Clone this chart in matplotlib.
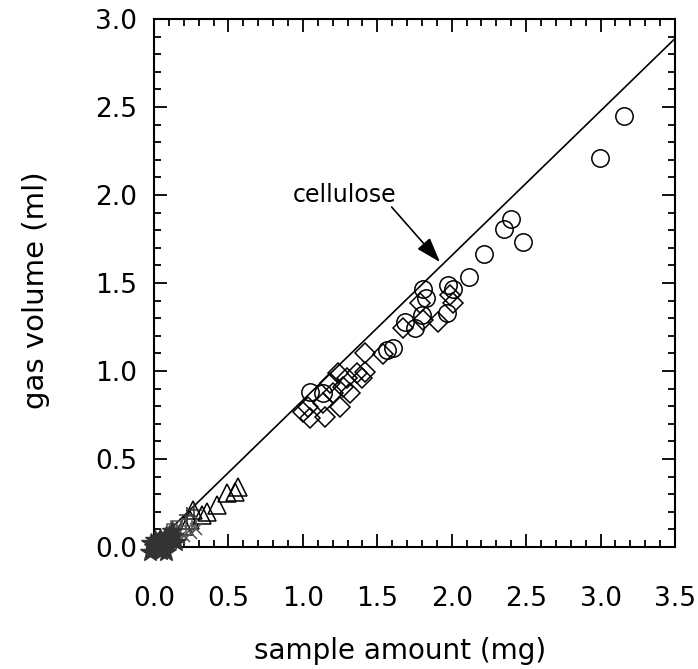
import matplotlib
matplotlib.use("Agg")
import matplotlib.pyplot as plt
from matplotlib.ticker import MultipleLocator

# ---- data ----
circle_x = [3.157, 2.995, 2.395, 2.35, 2.48, 2.216, 2.118, 1.977, 2.006, 1.81, 1.83,
            1.966, 1.80, 1.686, 1.753, 1.607, 1.563, 1.048, 1.137]
circle_y = [2.449, 2.21, 1.862, 1.805, 1.735, 1.665, 1.536, 1.489, 1.464, 1.464, 1.413,
            1.328, 1.318, 1.28, 1.243, 1.129, 1.119, 0.882, 0.873]

diamond_x = [1.417, 1.54, 1.675, 1.786, 1.91, 1.988, 2.01, 1.81, 1.238, 1.294, 1.361,
             1.417, 1.395, 1.182, 1.316, 1.204, 1.036, 1.003, 1.048, 1.148, 1.249,
             1.137, 1.27]
diamond_y = [1.104, 1.097, 1.243, 1.385, 1.28, 1.432, 1.385, 1.29, 0.987, 0.958, 0.987,
             0.996, 0.958, 0.93, 0.873, 0.873, 0.797, 0.769, 0.731, 0.741, 0.797,
             0.817, 0.91]

tri_x = [0.566, 0.544, 0.488, 0.421, 0.354, 0.32, 0.264, 0.242, 0.20]
tri_y = [0.343, 0.314, 0.305, 0.239, 0.20, 0.182, 0.21, 0.153, 0.12]

square_x = [0.15, 0.22, 0.18, 0.25, 0.12]
square_y = [0.12, 0.13, 0.09, 0.15, 0.10]

cross_x = [0.20, 0.25, 0.17, 0.28, 0.14]
cross_y = [0.06, 0.08, 0.05, 0.10, 0.07]

plus_x = [0.27, 0.22]
plus_y = [0.21, 0.18]

blob_x = [0.0, 0.02, 0.03, 0.05, 0.04, 0.07, 0.08, 0.10, 0.06, 0.01, 0.09, 0.12, 0.03,
          0.11, -0.02, 0.05, 0.13, 0.15, -0.03, 0.08]
blob_y = [0.0, 0.01, 0.03, 0.02, 0.05, 0.04, 0.06, 0.07, 0.0, 0.04, 0.02, 0.09, -0.01,
          0.04, 0.02, -0.02, 0.06, 0.03, -0.03, -0.03]

line_x = [0.0, 3.5]
line_slope = 0.822
line_intercept = 0.012

x_ticks = [0.0, 0.5, 1.0, 1.5, 2.0, 2.5, 3.0, 3.5]
y_ticks = [0.0, 0.5, 1.0, 1.5, 2.0, 2.5, 3.0]

# ---- figure ----
fig = plt.figure(figsize=(6.98, 6.69), dpi=100)
ax = fig.add_axes([154/698, 1-547/669, (675-154)/698, (547-19)/669])

ax.plot(line_x, [line_slope*v + line_intercept for v in line_x], color='black', lw=1.2, zorder=2)

mew = 1.1
ax.plot(circle_x, circle_y, 'o', ms=12.5, mfc='none', mec='black', mew=mew, zorder=3)
ax.plot(diamond_x, diamond_y, 'D', ms=10.5, mfc='none', mec='black', mew=mew, zorder=3)
ax.plot(tri_x, tri_y, '^', ms=13, mfc='none', mec='black', mew=mew, zorder=3)
ax.plot(square_x, square_y, 's', ms=7, mfc='none', mec='#555555', mew=mew, zorder=3)
ax.plot(cross_x, cross_y, 'x', ms=8, mec='#555555', mew=mew, zorder=3)
ax.plot(plus_x, plus_y, '+', ms=11, mec='#333333', mew=mew, zorder=3)
ax.plot(blob_x, blob_y, '*', ms=15, mfc='#333333', mec='#333333', mew=1.0, zorder=4,
        clip_on=False)

ax.set_xlim(0, 3.5)
ax.set_ylim(0, 3.0)
ax.set_xticks(x_ticks)
ax.set_yticks(y_ticks)
ax.set_xticklabels([f"{v:.1f}" for v in x_ticks])
ax.set_yticklabels([f"{v:.1f}" for v in y_ticks])
ax.xaxis.set_minor_locator(MultipleLocator(0.1))
ax.yaxis.set_minor_locator(MultipleLocator(0.1))
ax.tick_params(which='both', direction='in', top=True, right=True, width=1.3, color='black')
ax.tick_params(which='major', length=9.5)
ax.tick_params(which='minor', length=5)
ax.tick_params(axis='x', which='major', labelsize=19, pad=28)
ax.tick_params(axis='y', which='major', labelsize=19, pad=12)
for s in ax.spines.values():
    s.set_linewidth(1.5)

fig.text(400/698, 1-651/669, "sample amount (mg)", ha='center', va='center', fontsize=20)
fig.text(36/698, 1-290/669, "gas volume (ml)", ha='center', va='center', fontsize=21,
         rotation=90)

ax.annotate("cellulose", xy=(1.921, 1.619), xytext=(1.283, 2.0),
            ha='center', va='center', fontsize=17,
            arrowprops=dict(arrowstyle='-|>,head_length=0.9,head_width=0.3',
                            color='black', lw=1.2, shrinkA=0, shrinkB=0,
                            patchA=None, relpos=(0.95, 0.0)))

fig.savefig("out.png", dpi=100, facecolor='white')
